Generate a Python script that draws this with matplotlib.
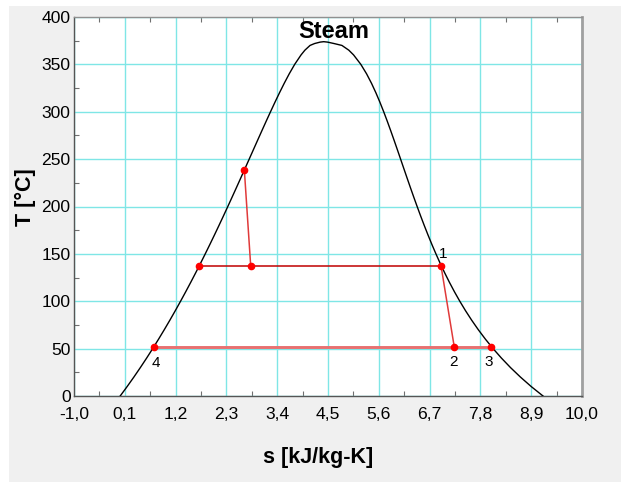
import matplotlib
matplotlib.use("Agg")
import matplotlib.pyplot as plt
from matplotlib.patches import Rectangle
from matplotlib.ticker import FixedLocator, FixedFormatter

plt.rcParams['font.family'] = ['Liberation Sans', 'DejaVu Sans']

# Saturation dome of water (T in degC, s in kJ/kg-K)
dome_T_liq = [0.01, 10, 20, 30, 40, 50, 60, 70, 80, 90, 100, 110, 120, 130, 140, 150,
              160, 170, 180, 190, 200, 210, 220, 230, 240, 250, 260, 270, 280, 290,
              300, 310, 320, 330, 340, 350, 360, 365, 370, 372, 373.5]
dome_s_liq = [0.0000, 0.1511, 0.2965, 0.4367, 0.5724, 0.7038, 0.8313, 0.9551, 1.0756,
              1.1929, 1.3072, 1.4188, 1.5279, 1.6346, 1.7392, 1.8418, 1.9426, 2.0417,
              2.1392, 2.2355, 2.3305, 2.4245, 2.5177, 2.6101, 2.7020, 2.7935, 2.8849,
              2.9765, 3.0685, 3.1612, 3.2552, 3.3510, 3.4494, 3.5518, 3.6601, 3.7784,
              3.9167, 4.0000, 4.1112, 4.2100, 4.3300]
dome_T_crit = 373.95
dome_s_crit = 4.4070
dome_T_vap = [373.5, 372, 370, 365, 360, 350, 340, 330, 320, 310, 300, 290, 280, 270,
              260, 250, 240, 230, 220, 210, 200, 190, 180, 170, 160, 150, 140, 130,
              120, 110, 100, 90, 80, 70, 60, 50, 40, 30, 20, 10, 0.01]
dome_s_vap = [4.4900, 4.6300, 4.8012, 4.9500, 5.0536, 5.2110, 5.3356, 5.4422, 5.5372,
              5.6244, 5.7059, 5.7834, 5.8579, 5.9304, 6.0016, 6.0721, 6.1423, 6.2128,
              6.2840, 6.3563, 6.4302, 6.5059, 6.5840, 6.6650, 6.7491, 6.8371, 6.9293,
              7.0264, 7.1291, 7.2380, 7.3541, 7.4781, 7.6111, 7.7540, 7.9082, 8.0749,
              8.2557, 8.4520, 8.6665, 8.8999, 9.1556]

# Cycle states
T_low = 51.5
T_mid = 137.5
s_pump_out, T_pump_out = 2.688, 239.0
s_mid_liq = 1.713
s_mid_b = 2.826
s1 = 6.947
s2 = 7.235
s3 = 8.03
s4 = 0.726
state_labels = ["1", "2", "3", "4"]

xticks = [-1.0, 0.1, 1.2, 2.3, 3.4, 4.5, 5.6, 6.7, 7.8, 8.9, 10.0]
yticks = [0, 50, 100, 150, 200, 250, 300, 350, 400]

fig = plt.figure(figsize=(6.21, 4.83), dpi=100, facecolor='white')
fig.patches.append(Rectangle((9/621, 1/483), 1 - 9/621, (483 - 7)/483,
                             transform=fig.transFigure, facecolor='#f0f0f0',
                             edgecolor='none', zorder=-10))
ax = fig.add_axes([74/621, (483-396)/483, 508/621, 379/483])
ax.set_facecolor('white')
ax.set_xlim(-1.0, 10.0)
ax.set_ylim(0, 400)

# grid
ax.xaxis.set_major_locator(FixedLocator(xticks))
ax.xaxis.set_major_formatter(FixedFormatter([f"{v:.1f}".replace('.', ',') for v in xticks]))
ax.yaxis.set_major_locator(FixedLocator(yticks))
ax.yaxis.set_major_formatter(FixedFormatter([str(v) for v in yticks]))
ax.xaxis.set_minor_locator(FixedLocator([v + 0.55 for v in xticks[:-1]]))
ax.yaxis.set_minor_locator(FixedLocator([v + 25 for v in yticks[:-1]]))
ax.grid(True, which='major', color='#7fe6e6', linewidth=1.0, zorder=0)
ax.set_axisbelow(True)
ax.tick_params(which='major', length=0, labelsize=12.6, pad=2.5)
ax.tick_params(axis='x', which='major', pad=8)
ax.tick_params(which='minor', direction='in', length=3.5, width=0.8, color='#707070',
               top=True, bottom=True, left=True, right=False)

for side in ['left', 'bottom']:
    ax.spines[side].set_color('#555555')
    ax.spines[side].set_linewidth(1.0)
ax.spines['top'].set_color('#909090')
ax.spines['top'].set_linewidth(1.0)
ax.spines['right'].set_color('#a0a0a0')
ax.spines['right'].set_linewidth(2.0)

# dome
dome_s = dome_s_liq + [dome_s_crit] + dome_s_vap
dome_T = dome_T_liq + [dome_T_crit] + dome_T_vap
ax.plot(dome_s, dome_T, color='black', linewidth=1.0, zorder=3)

# cycle
ax.plot([s4, s3], [T_low, T_low], color='#e87070', linewidth=2.1, zorder=4)
ax.plot([s_mid_liq, s1], [T_mid, T_mid], color='#c00000', linewidth=1.1, zorder=4)
ax.plot([s_pump_out, s_mid_b], [T_pump_out, T_mid], color='#e03a3a', linewidth=1.1, zorder=4)
ax.plot([s1, s2], [T_mid, T_low], color='#e03a3a', linewidth=1.1, zorder=4)
pts_s = [s_pump_out, s_mid_liq, s_mid_b, s1, s2, s3, s4]
pts_T = [T_pump_out, T_mid, T_mid, T_mid, T_low, T_low, T_low]
ax.plot(pts_s, pts_T, linestyle='none', marker='o', markersize=4.5, color='#ff0000',
        zorder=5)

label_pos = [(s1, T_mid, 0.05, 12), (s2, T_low, -0.02, -16), (s3, T_low, -0.04, -16),
             (s4, T_low, 0.05, -17)]
for lab, (sx, ty, dx, dy) in zip(state_labels, label_pos):
    ax.text(sx + dx, ty + dy, lab, fontsize=11, ha='center', va='center', zorder=6)

fig.text(334/621, 1 - 32/483, "Steam", fontsize=17, fontweight='bold',
         ha='center', va='center')
fig.text(318/621, 1 - 457/483, "s [kJ/kg-K]", fontsize=15.5, fontweight='bold',
         ha='center', va='center')
fig.text(25/621, 1 - 197/483, "T [°C]", fontsize=15.5, fontweight='bold',
         ha='center', va='center', rotation=90)

fig.savefig("out.png", dpi=100, facecolor=fig.get_facecolor())
